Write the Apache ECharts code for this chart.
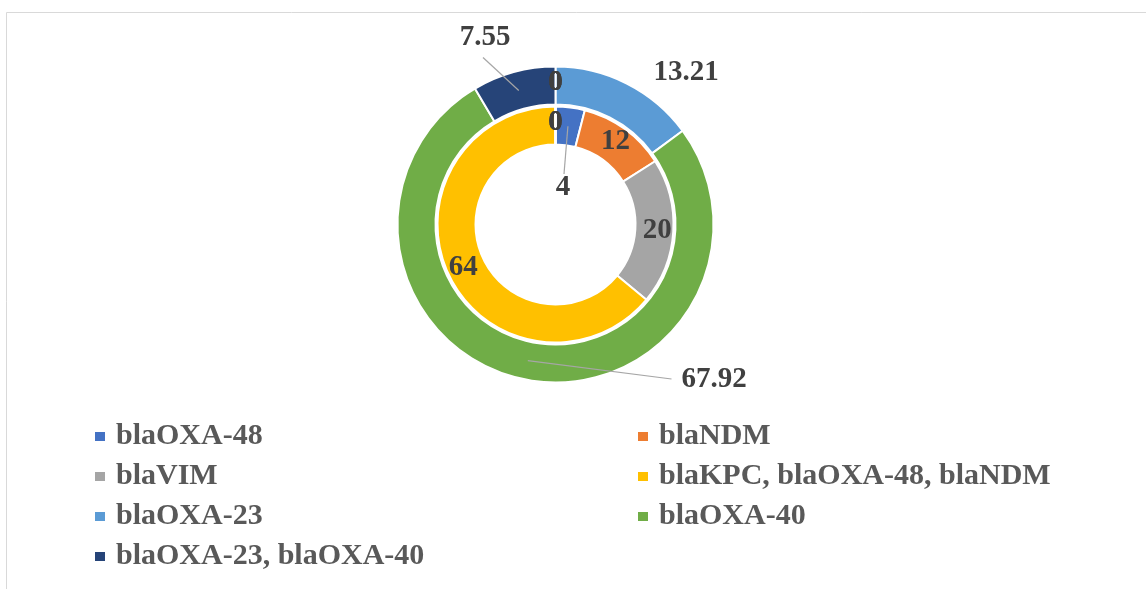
<!DOCTYPE html>
<html>
<head>
<meta charset="utf-8">
<script src="https://cdn.jsdelivr.net/npm/echarts@6/dist/echarts.min.js"></script>
<style>
  html, body { margin: 0; padding: 0; background: #ffffff; }
  #chart { width: 1146px; height: 589px; }
</style>
</head>
<body>
<div id="chart"></div>
<script>
// Gene categories, shared by both rings
const categories = [
  'blaOXA-48',
  'blaNDM',
  'blaVIM',
  'blaKPC, blaOXA-48, blaNDM',
  'blaOXA-23',
  'blaOXA-40',
  'blaOXA-23, blaOXA-40'
];
// inner ring values (%)
const innerValues = [4, 12, 20, 64, 0, 0, 0];
// outer ring values (%)
const outerValues = [0, 0, 0, 0, 13.21, 67.92, 7.55];
const palette = ['#4472C4', '#ED7D31', '#A5A5A5', '#FFC000', '#5B9BD5', '#70AD47', '#264478'];

// legend split into two columns
const legendLeft = [categories[0], categories[2], categories[4], categories[6]];
const legendRight = [categories[1], categories[3], categories[5]];

const CX = 555.5, CY = 224.5;
const INNER_R = [80, 118];
const OUTER_R = [120, 158];
const rings = [
  { values: innerValues, radius: INNER_R },
  { values: outerValues, radius: OUTER_R }
];

// callout label placement: label centre and leader-line end, as offsets from the pie centre
const callouts = {
  '0|blaOXA-48': { label: [7.5, -36.5], lineEnd: [8.5, -50.5] },
  '1|blaOXA-23': { label: [130.5, -151.5] },
  '1|blaOXA-40': { label: [158.5, 155.5], lineEnd: [116, 154.5] },
  '1|blaOXA-23, blaOXA-40': { label: [-70.5, -186.5], lineEnd: [-72.5, -167] }
};

const labelFont = {
  fontFamily: 'Liberation Serif',
  fontWeight: 'bold',
  fontSize: 29,
  color: '#404040'
};

// mid point of a sector (angle measured clockwise from 12 o'clock)
function sectorMid(values, idx, radius) {
  const total = values.reduce((a, b) => a + b, 0);
  let before = 0;
  for (let i = 0; i < idx; i++) before += values[i];
  const frac = (before + values[idx] / 2) / total;
  const a = frac * Math.PI * 2;
  return [CX + radius * Math.sin(a), CY - radius * Math.cos(a)];
}

function buildData(values, seriesIdx) {
  return categories.map((name, i) => {
    const c = callouts[seriesIdx + '|' + name];
    return {
      name: name,
      value: values[i],
      itemStyle: { color: palette[i] },
      label: { position: c ? 'outside' : 'inside' }
    };
  });
}

function makeLayout(seriesIdx) {
  return function (params) {
    const c = callouts[seriesIdx + '|' + categories[params.dataIndex]];
    if (!c) return {};
    return {
      x: CX + c.label[0],
      y: CY + c.label[1],
      align: 'center',
      verticalAlign: 'middle'
    };
  };
}

// leader lines from the middle of a sector to its moved label
const leaderLines = [];
Object.keys(callouts).forEach(key => {
  const c = callouts[key];
  if (!c.lineEnd) return;
  const parts = key.split('|');
  const ring = rings[+parts[0]];
  const idx = categories.indexOf(parts[1]);
  const p0 = sectorMid(ring.values, idx, (ring.radius[0] + ring.radius[1]) / 2);
  leaderLines.push({
    type: 'line',
    silent: true,
    z: 10,
    shape: { x1: p0[0], y1: p0[1], x2: CX + c.lineEnd[0], y2: CY + c.lineEnd[1] },
    style: { stroke: '#a6a6a6', lineWidth: 1.2 }
  });
});

const legendCommon = {
  orient: 'vertical',
  icon: 'rect',
  itemWidth: 12,
  itemHeight: 11,
  itemGap: 9,
  selectedMode: false,
  textStyle: {
    fontFamily: 'Liberation Serif',
    fontWeight: 'bold',
    fontSize: 30,
    lineHeight: 31,
    color: '#595959',
    padding: [0, 0, 0, 5]
  }
};

const chart = echarts.init(document.getElementById('chart'), null, { renderer: 'canvas' });
chart.setOption({
  backgroundColor: '#ffffff',
  animation: false,
  graphic: [{
    type: 'rect',
    silent: true,
    z: -1,
    shape: { x: 6.5, y: 12.5, width: 1300, height: 700 },
    style: { fill: 'none', stroke: '#d9d9d9', lineWidth: 1 }
  }].concat(leaderLines),
  legend: [
    Object.assign({ left: 88, top: 416, data: legendLeft }, legendCommon),
    Object.assign({ left: 631, top: 416, data: legendRight }, legendCommon)
  ],
  series: [0, 1].map(s => ({
    name: s === 0 ? 'inner' : 'outer',
    type: 'pie',
    center: [CX, CY],
    radius: rings[s].radius,
    startAngle: 90,
    clockwise: true,
    avoidLabelOverlap: false,
    itemStyle: { borderColor: '#ffffff', borderWidth: 2 },
    label: Object.assign({ show: true, formatter: '{c}' }, labelFont),
    labelLine: { show: false },
    labelLayout: makeLayout(s),
    emphasis: { disabled: true },
    data: buildData(rings[s].values, s)
  }))
});
</script>
</body>
</html>
